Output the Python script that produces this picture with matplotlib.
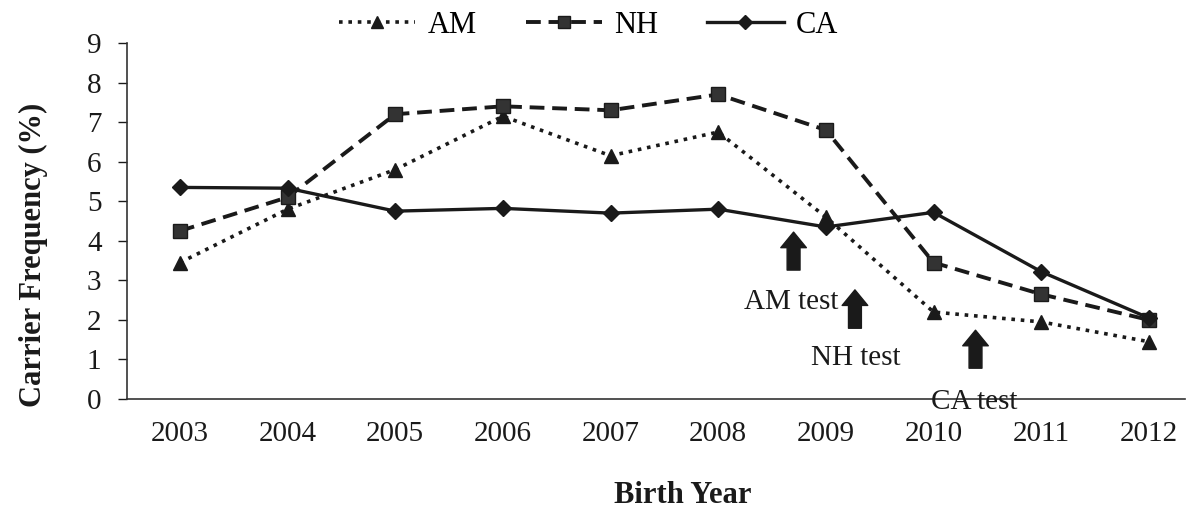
import matplotlib
matplotlib.use("Agg")
import matplotlib.pyplot as plt

years = [2003, 2004, 2005, 2006, 2007, 2008, 2009, 2010, 2011, 2012]
am = [3.45, 4.8, 5.8, 7.15, 6.15, 6.75, 4.6, 2.2, 1.95, 1.45]
nh = [4.25, 5.1, 7.2, 7.4, 7.3, 7.7, 6.8, 3.45, 2.65, 2.0]
ca = [5.35, 5.33, 4.75, 4.82, 4.7, 4.8, 4.35, 4.72, 3.22, 2.05]
series_names = ["AM", "NH", "CA"]
yticks = list(range(0, 10))

arrow_labels = ["AM test", "NH test", "CA test"]
arrow_x = [2008.70, 2009.27, 2010.39]
arrow_y0 = [3.26, 1.79, 0.78]
arrow_y1 = [4.22, 2.76, 1.74]
label_pos = [(2009.12, 2.45, "right"), (2009.28, 1.04, "center"), (2010.38, -0.08, "center")]

plt.rcParams["font.family"] = ["Liberation Serif", "DejaVu Serif"]
ink = "#1a1a1a"

fig = plt.figure(figsize=(11.89, 5.09), dpi=100)
ax = fig.add_axes([0.107, 0.216, 0.890, 0.6995])

ax.plot(years, am, linestyle=(0, (1, 1.6)), lw=2.6, color=ink, marker="^", ms=10,
        mfc=ink, mec=ink, label=series_names[0])
ax.plot(years, nh, linestyle=(0, (3.8, 2.0)), lw=2.8, color=ink, marker="s", ms=10,
        mfc="#333333", mec=ink, label=series_names[1])
ax.plot(years, ca, linestyle="-", lw=2.4, color=ink, marker="D", ms=8.5,
        mfc=ink, mec=ink, label=series_names[2])

for x, y0, y1 in zip(arrow_x, arrow_y0, arrow_y1):
    ax.annotate("", xy=(x, y1), xytext=(x, y0),
                arrowprops=dict(arrowstyle="simple,head_width=1.15,head_length=0.7,tail_width=0.58",
                                fc=ink, ec=ink, mutation_scale=16, shrinkA=0, shrinkB=0))
for lab, (x, y, ha) in zip(arrow_labels, label_pos):
    ax.text(x, y, lab, ha=ha, va="center", fontsize=21, color=ink)

ax.set_xlim(2002.51, 2012.34)
ax.set_ylim(0, 9)
ax.set_xticks(years)
ax.set_xticklabels([str(y) for y in years])
ax.set_yticks(yticks)
ax.tick_params(axis="x", length=0, pad=16, labelsize=21, colors=ink)
ax.tick_params(axis="y", length=6.5, width=1, pad=12, labelsize=21, colors=ink, direction="out")
for s in ["top", "right"]:
    ax.spines[s].set_visible(False)
for s in ["left", "bottom"]:
    ax.spines[s].set_color("#333333")
    ax.spines[s].set_linewidth(1.2)

ax.set_ylabel("Carrier Frequency (%)", fontsize=22, fontweight="bold", color=ink)
ax.yaxis.label.set_va("center")
ax.yaxis.set_label_coords(-0.089, 0.405)
ax.set_xlabel("Birth Year", fontsize=22, fontweight="bold", color=ink)
ax.xaxis.label.set_va("center")
ax.xaxis.set_label_coords(0.525, -0.27)

fig.legend(loc="center", bbox_to_anchor=(0.495, 0.95), ncol=3, frameon=False,
           fontsize=22, handlelength=2.5, columnspacing=1.6, handletextpad=0.4,
           markerscale=0.85)

fig.savefig("out.png", dpi=100)
